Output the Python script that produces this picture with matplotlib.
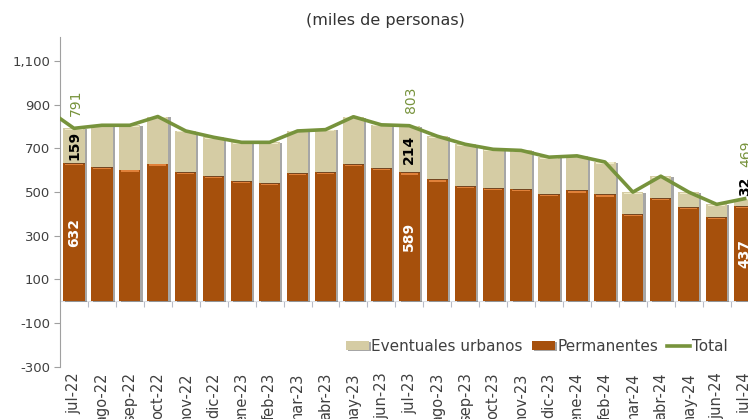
import numpy as np
import matplotlib
matplotlib.use("Agg")
from matplotlib import pyplot as plt
import matplotlib.patheffects as pe

# datos (miles de personas)
meses = ['jul-22', 'ago-22', 'sep-22', 'oct-22', 'nov-22', 'dic-22', 'ene-23', 'feb-23',
         'mar-23', 'abr-23', 'may-23', 'jun-23', 'jul-23', 'ago-23', 'sep-23', 'oct-23',
         'nov-23', 'dic-23', 'ene-24', 'feb-24', 'mar-24', 'abr-24', 'may-24', 'jun-24',
         'jul-24']
permanentes = [632, 614, 602, 630, 590, 572, 549, 542, 587, 590, 628, 609, 589, 557,
               526, 518, 512, 491, 507, 489, 400, 473, 431, 386, 437]
eventuales = [159, 191, 203, 215, 189, 178, 178, 185, 192, 195, 216, 198, 214, 198,
              192, 177, 178, 168, 158, 148, 99, 99, 68, 57, 32]
total_jun22 = 881  # punto anterior, solo se ve el tramo de la linea
etiquetados = [0, 12, 24]

total = [p + e for p, e in zip(permanentes, eventuales)]
x = np.arange(len(meses))

c_perm = '#A6500C'
c_event = '#D5CCA4'
c_total = '#77933C'
c_txt = '#404040'

plt.rcParams['font.family'] = ['DejaVu Sans']

fig = plt.figure(figsize=(7.48, 4.19), dpi=100)
ax = fig.add_axes([60/748, 0.1248, 1 - 60/748, 0.9117 - 0.1248])

sombra = [pe.SimplePatchShadow(offset=(1.5, -0.6), shadow_rgbFace='#3a3a3a', alpha=0.45), pe.Normal()]
b1 = ax.bar(x, permanentes, width=0.76, color=c_perm, label='Permanentes', zorder=2)
b2 = ax.bar(x, eventuales, width=0.76, bottom=permanentes, color=c_event,
            label='Eventuales urbanos', zorder=2)
for r in list(b1) + list(b2):
    r.set_path_effects(sombra)
# brillo en la parte alta de cada tramo
ax.bar(x, [6]*len(x), width=0.62, bottom=[p - 10 for p in permanentes], color='#E0813A', zorder=3)
ax.bar(x, [5]*len(x), width=0.62, bottom=[t - 7 for t in total], color='#EFEBC8', zorder=3)

xs = np.concatenate([[-1], x])
ys = [total_jun22] + total
ax.plot(xs, ys, color=c_total, lw=2.6, label='Total', zorder=4, solid_joinstyle='round')

for i in etiquetados:
    if eventuales[i] > 60:
        ax.text(x[i], permanentes[i] + eventuales[i] / 2, str(eventuales[i]), rotation=90,
                ha='center', va='center', fontsize=10, fontweight='bold', color='black', zorder=5)
        off_total = 9
    else:
        ax.annotate(str(eventuales[i]), (x[i], total[i]), xytext=(0, 2), textcoords='offset points',
                    rotation=90, ha='center', va='bottom', fontsize=10, fontweight='bold',
                    color='black', zorder=5)
        off_total = 23
    ax.text(x[i], permanentes[i] / 2, str(permanentes[i]), rotation=90, ha='center',
            va='center', fontsize=10, fontweight='bold', color='white', zorder=5)
    ax.annotate(str(total[i]), (x[i], total[i]), xytext=(1.5, off_total), textcoords='offset points',
                rotation=90, ha='center', va='bottom', fontsize=10, color=c_total, zorder=5)

ax.set_xlim(-0.5, 24.12)
ax.set_ylim(-300, 1209)
ax.set_yticks(np.arange(-300, 1101, 200))
ax.set_yticklabels([f'{v:,}' for v in range(-300, 1101, 200)])
ax.set_xticks(x)
ax.set_xticklabels(meses, rotation=90)
ax.tick_params(axis='x', length=0, pad=4, labelsize=10.5, labelcolor=c_txt)
ax.tick_params(axis='y', length=4, width=0.8, color='#A0A0A0', labelsize=9.5,
               labelcolor=c_txt, pad=3)
for s in ['top', 'right', 'bottom']:
    ax.spines[s].set_visible(False)
ax.spines['left'].set_color('#A0A0A0')

# eje de categorias en cero
sec = ax.secondary_xaxis(300 / 1509)
sec.set_xticks(np.arange(0.5, 25, 1))
sec.tick_params(length=4, width=0.8, color='#B8BCC8', labelbottom=False)
sec.spines['bottom'].set_color('#DADDE3')
for s in ['top', 'left', 'right']:
    sec.spines[s].set_visible(False)

h, l = ax.get_legend_handles_labels()
orden = [l.index('Eventuales urbanos'), l.index('Permanentes'), l.index('Total')]
ax.legend([h[k] for k in orden], [l[k] for k in orden], loc='center',
          bbox_to_anchor=(537/748, 1 - 346.7/419), bbox_transform=fig.transFigure,
          ncol=3, frameon=False, fontsize=11, handlelength=1.5, handleheight=0.5,
          handletextpad=0.15, columnspacing=0.6, labelcolor=c_txt)

fig.text(385/748, 1 - 20/419, '(miles de personas)', ha='center', va='center',
         fontsize=11.5, color='#333333')

fig.savefig('out.png', dpi=100)
